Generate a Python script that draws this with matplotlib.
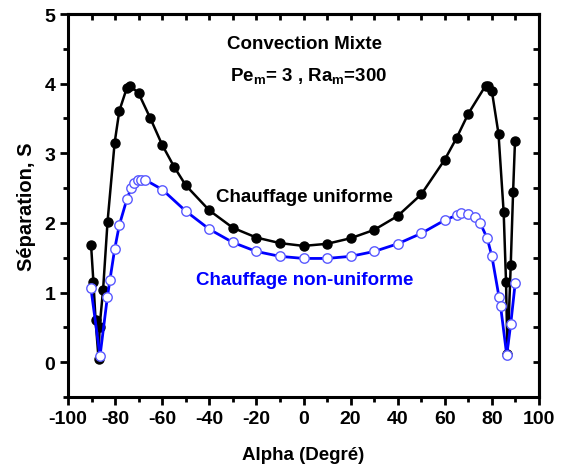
import numpy as np
import matplotlib
matplotlib.use('Agg')
from matplotlib import pyplot as plt

# Chauffage uniforme (black, filled)
alpha_u = [-90.2, -89.2, -88.3, -87.0, -86.6, -85.1, -83.2, -80.2, -78.2, -75.0,
           -73.5, -70.0, -65.0, -60.0, -55.0, -50.0, -40.0, -30.0, -20.0, -10.0,
           0.0, 10.0, 20.0, 30.0, 40.0, 50.0, 60.0, 65.0, 70.0, 77.3,
           78.5, 80.0, 82.8, 85.0, 86.0, 86.6, 88.0, 89.0, 89.8]
sep_u = [1.68, 1.15, 0.61, 0.04, 0.50, 1.04, 2.02, 3.15, 3.61, 3.94,
         3.97, 3.86, 3.50, 3.12, 2.81, 2.54, 2.18, 1.93, 1.79, 1.71,
         1.67, 1.70, 1.78, 1.90, 2.10, 2.41, 2.91, 3.22, 3.57, 3.97,
         3.96, 3.89, 3.28, 2.15, 1.15, 0.12, 1.40, 2.45, 3.17]

# Chauffage non-uniforme (blue, open)
alpha_n = [-90.3, -86.4, -83.3, -82.2, -80.2, -78.2, -75.0, -73.2, -71.8, -70.4,
           -69.0, -67.3, -60.0, -50.0, -40.0, -30.0, -20.0, -10.0, 0.0, 10.0,
           20.0, 30.0, 40.0, 50.0, 60.0, 65.0, 67.0, 70.0, 73.0, 75.0,
           78.0, 80.0, 83.0, 83.7, 86.3, 88.0, 89.9]
sep_n = [1.07, 0.09, 0.93, 1.18, 1.62, 1.97, 2.34, 2.50, 2.58, 2.61,
         2.62, 2.62, 2.48, 2.17, 1.91, 1.72, 1.59, 1.52, 1.49, 1.49,
         1.52, 1.59, 1.70, 1.85, 2.04, 2.11, 2.14, 2.13, 2.08, 2.00,
         1.78, 1.52, 0.94, 0.80, 0.10, 0.55, 1.14]

plt.rcParams['font.family'] = 'Liberation Sans'
plt.rcParams['font.weight'] = 'bold'
plt.rcParams['axes.unicode_minus'] = False
plt.rcParams['mathtext.fontset'] = 'custom'
plt.rcParams['mathtext.rm'] = 'Liberation Sans:bold'
plt.rcParams['mathtext.it'] = 'Liberation Sans:bold'

fig = plt.figure(figsize=(5.61, 4.77), dpi=100)
ax = fig.add_axes([0.1212, 0.1656, 0.8396, 0.8029])

ax.plot(alpha_u, sep_u, '-o', color='black', lw=1.8, ms=6.5, mfc='black', mec='black')
ax.plot(alpha_n, sep_n, '-o', color='#0000ff', lw=2.0, ms=6.8, mfc='white', mec='#5a5aff', mew=1.0)

ax.set_xlim(-100, 100)
ax.set_ylim(-0.5, 5)
ax.set_xticks(np.arange(-100, 101, 20))
ax.set_xticks(np.arange(-100, 101, 10), minor=True)
ax.set_yticks(np.arange(0, 5.1, 1))
ax.set_yticks(np.arange(-0.5, 5.1, 0.5), minor=True)
ax.tick_params(which='major', direction='out', length=6, width=2, labelsize=14, pad=3)
ax.tick_params(which='minor', direction='out', length=3.5, width=2)
for s in ax.spines.values():
    s.set_linewidth(2.2)

top = ax.secondary_xaxis('top')
top.set_xticks(np.arange(-90, 100, 10))
top.tick_params(direction='in', length=4.5, width=2, labeltop=False)
top.spines['top'].set_linewidth(2.2)
right = ax.secondary_yaxis('right')
right.set_yticks(np.arange(-0.5, 5.1, 0.5))
right.tick_params(direction='in', length=4.5, width=2, labelright=False)
right.spines['right'].set_linewidth(2.2)

ax.set_xlabel('Alpha (Degré)', fontsize=13.5, fontweight='bold', labelpad=14)
ax.set_ylabel('Séparation, S', fontsize=14.5, fontweight='bold', labelpad=6)

ax.text(0.4, 4.57, 'Convection Mixte', ha='center', va='center', fontsize=13.5, fontweight='bold')
ax.text(2, 4.12, r'Pe$_\mathregular{m}$= 3 , Ra$_\mathregular{m}$=300', ha='center', va='center',
        fontsize=13.5, fontweight='bold')
ax.text(0.2, 2.385, 'Chauffage uniforme', ha='center', va='center', fontsize=13.5, fontweight='bold')
ax.text(0.6, 1.19, 'Chauffage non-uniforme', ha='center', va='center', fontsize=13.5,
        fontweight='bold', color='#0000ff')

fig.savefig('out.png', dpi=100)
